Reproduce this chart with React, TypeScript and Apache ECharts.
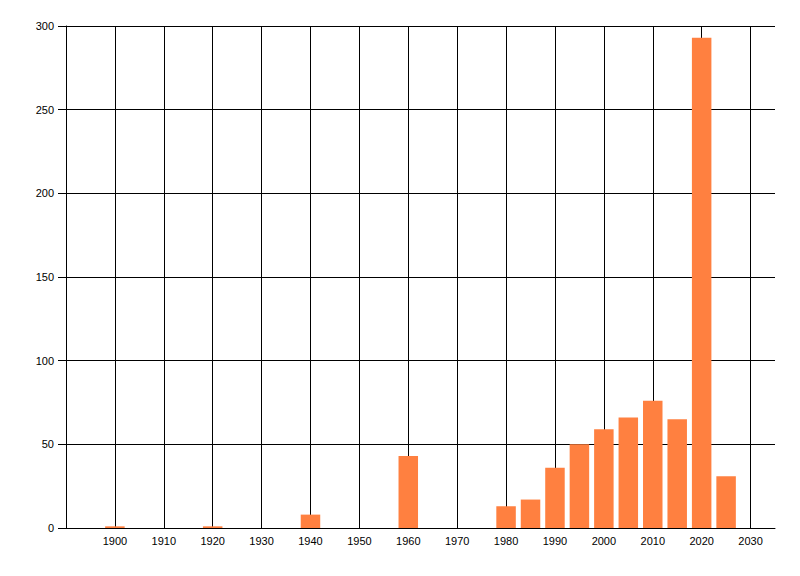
import React, { useEffect, useRef } from "react";
import * as echarts from "echarts";

const years = [1900, 1920, 1940, 1960, 1980, 1985, 1990, 1995, 2000, 2005, 2010, 2015, 2020, 2025];
const counts = [1, 1, 8, 43, 13, 17, 36, 50, 59, 66, 76, 65, 293, 31];
const yTicks = [0, 50, 100, 150, 200, 250, 300];

export default function App() {
  const ref = useRef<HTMLDivElement>(null);
  useEffect(() => {
    document.body.style.margin = "0";
    if (!ref.current) return;
    const chart = echarts.init(ref.current, null, { renderer: "svg" });
    const font = "'Liberation Sans', Arial, sans-serif";
    chart.setOption({
      animation: false,
      backgroundColor: "#ffffff",
      grid: { left: 66, top: 26, right: 25, bottom: 48, containLabel: false },
      xAxis: {
        type: "value",
        min: 1890,
        max: 2035,
        interval: 10,
        axisLine: { show: true, onZero: false, lineStyle: { color: "#000", width: 1 } },
        axisTick: { show: false },
        axisLabel: {
          show: true,
          showMinLabel: false,
          showMaxLabel: false,
          color: "#000",
          fontFamily: font,
          fontSize: 11,
          margin: 7,
          formatter: (v: number) => String(v),
        },
        splitLine: { show: true, showMinLine: false, showMaxLine: false, lineStyle: { color: "#000", width: 1 } },
      },
      yAxis: {
        type: "value",
        min: yTicks[0],
        max: yTicks[yTicks.length - 1],
        interval: 50,
        axisLine: { show: true, lineStyle: { color: "#000", width: 1 } },
        axisTick: { show: true, length: 8, lineStyle: { color: "#000", width: 1 } },
        axisLabel: { color: "#000", fontFamily: font, fontSize: 11, margin: 12, formatter: (v: number) => String(v) },
        splitLine: { show: true, lineStyle: { color: "#000", width: 1 } },
      },
      series: [
        {
          type: "bar",
          data: years.map((y, i) => [y, counts[i]]),
          barWidth: 19.5,
          itemStyle: { color: "#FF8040" },
        },
      ],
    });
    return () => chart.dispose();
  }, []);
  return <div ref={ref} style={{ width: 800, height: 576 }} />;
}
